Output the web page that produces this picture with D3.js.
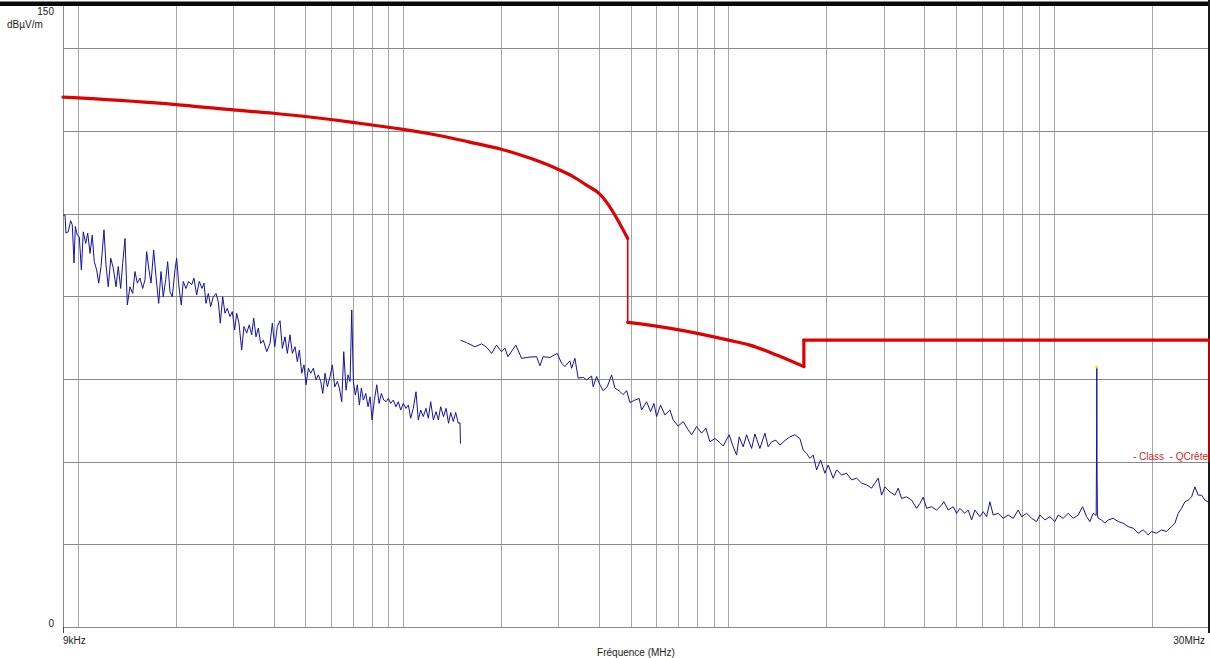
<!DOCTYPE html>
<html lang="fr">
<head>
<meta charset="utf-8">
<title>Champ rayonné 9kHz - 30MHz</title>
<style>
html,body{margin:0;padding:0;background:#fff;overflow:hidden;}
svg{display:block;font-family:"Liberation Sans",Arial,sans-serif;}
.grid-v{stroke:#a6a6a6;stroke-width:1;}
.grid-h{stroke:#8a8a8a;stroke-width:1;}
.axis{stroke:#8a8a8a;stroke-width:1;}
.lbl{fill:#222;font-size:10px;}
.scan{fill:none;stroke:#1212a8;stroke-width:1;stroke-linejoin:round;}
.limit{fill:none;stroke:#e10000;stroke-width:3.2;stroke-linejoin:round;stroke-linecap:round;}
.limit-thin{fill:none;stroke:#d80000;stroke-width:1.6;}
</style>
</head>
<body>
<svg id="chart" width="1210" height="658"></svg>

<script src="https://cdn.jsdelivr.net/npm/d3@7"></script>
<script>
/* ---------- 1. données (fréquence en kHz, niveau en dBµV/m) ---------- */
const freqDomain  = [9, 30000];
const levelDomain = [0, 150];
const gridLevels  = [20, 40, 60, 80, 100, 120, 140];
const yLabels     = [0, 150];
const xLabels     = [[9, '9kHz'], [30000, '30MHz']];
const yUnit       = 'dBµV/m';
const xTitle      = 'Fréquence (MHz)';
const legendText  = '- Class  - QCrête';

// limite QCrête
const limit = [
  [9,128.2],[10,128.0],[20,126.4],[30,125.1],[40,124.3],[50,123.5],[70,122.1],
  [90,120.9],[100,120.4],[135,118.6],[160,117.3],[200,115.6],[250,113.2],
  [300,110.7],[332,109.0],[366,106.9],[400,104.9],[490,94.0],[490,73.7],
  [600,72.8],[726,71.7],[1000,69.4],[1163,68.2],[1406,65.8],[1705,63.0],
  [1705,69.4],[30000,69.4],[30000,40]
];

// balayage 9 kHz - 150 kHz
const scanLow = [
  [9.0,99.7],[9.13,99.7],[9.19,95.3],[9.34,95.6],[9.50,98.3],[9.61,97.3],[9.73,88.1],
  [9.82,96.9],[9.96,94.8],[10.10,94.4],[10.25,86.4],[10.39,95.6],[10.57,92.8],
  [10.72,95.3],[10.90,90.4],[11.07,94.8],[11.23,88.4],[11.42,86.4],[11.59,83.2],
  [11.78,87.2],[12.03,96.1],[12.20,87.6],[12.40,82.3],[12.62,89.2],[12.85,86.8],
  [13.10,82.3],[13.31,87.2],[13.54,81.9],[13.73,88.0],[13.96,94.0],[14.19,77.9],
  [14.46,82.3],[14.74,80.7],[14.98,86.0],[15.23,83.2],[15.52,84.4],[15.82,81.9],
  [16.08,84.0],[16.27,90.8],[16.54,86.4],[16.78,83.2],[17.10,91.2],[17.38,84.8],
  [17.72,78.3],[18.01,86.0],[18.30,79.9],[18.62,84.0],[18.88,88.4],[19.19,81.1],
  [19.51,79.9],[19.88,86.4],[20.12,89.2],[20.45,82.3],[20.79,77.9],[21.08,83.6],
  [21.49,81.9],[21.90,83.6],[22.38,82.8],[22.74,84.4],[23.18,80.3],[23.61,83.6],
  [24.07,81.9],[24.41,83.2],[24.76,78.3],[25.17,80.7],[25.60,77.5],[26.08,79.9],
  [26.58,80.7],[27.02,78.7],[27.40,73.5],[27.87,79.9],[28.33,75.9],[28.79,77.1],
  [29.35,75.1],[29.83,76.3],[30.34,71.9],[30.77,75.9],[31.28,73.5],[31.88,67.0],
  [32.40,72.7],[33.03,71.1],[33.64,73.1],[34.22,70.7],[34.71,74.7],[35.28,70.2],
  [35.86,72.3],[36.47,68.6],[37.15,69.4],[38.06,66.6],[38.96,68.6],[39.60,73.5],
  [40.28,67.8],[41.03,72.7],[41.82,74.1],[42.51,67.4],[43.33,70.2],[44.04,66.2],
  [44.89,70.7],[45.63,66.2],[46.51,67.8],[47.27,64.2],[47.95,67.0],[48.77,61.4],
  [49.57,63.4],[50.28,58.6],[51.10,62.6],[51.98,61.4],[52.95,62.6],[53.97,59.8],
  [54.85,61.0],[55.79,59.4],[56.59,56.5],[57.52,61.4],[58.46,58.1],[59.59,60.6],
  [60.57,63.4],[61.61,58.1],[62.75,59.4],[63.65,57.8],[64.74,54.5],[65.66,66.6],
  [66.74,57.3],[67.69,61.0],[68.66,59.4],[69.49,76.7],[70.28,59.4],[71.28,56.1],
  [72.30,58.6],[73.33,53.7],[74.37,57.8],[75.43,54.9],[76.73,56.5],[77.99,53.3],
  [79.10,55.7],[80.23,50.1],[81.54,54.9],[82.94,58.6],[84.30,54.1],[85.69,56.5],
  [87.16,54.9],[88.59,54.5],[90.0,55.3],[91.54,54.1],[93.24,54.9],[95.04,53.3],
  [96.60,54.5],[98.26,52.5],[100.1,54.1],[102.0,52.9],[103.7,53.7],[105.5,50.5],
  [107.4,52.9],[109.5,56.9],[111.3,50.1],[113.2,52.5],[115.3,50.9],[117.5,52.9],
  [119.5,50.5],[121.5,54.5],[123.8,50.1],[126.2,52.1],[128.3,50.1],[130.4,53.3],
  [133.0,50.9],[135.5,52.9],[137.8,49.3],[140.0,51.9],[142.6,49.7],[145.0,51.9],
  [147.7,49.3],[149.5,49.4],[150.0,44.4]
];

// balayage 150 kHz - 30 MHz
const scanHigh = [
  [150,69.4],[156.6,68.8],[166.1,67.8],[174.2,68.5],[180.5,67.7],[187.0,66.2],
  [193.7,68.2],[200.7,66.6],[205.4,67.5],[209.8,65.4],[222.0,68.2],[231.2,65.0],
  [245.2,65.3],[257.1,65.4],[263.2,63.2],[269.4,65.4],[282.5,65.2],[297.5,66.2],
  [306.9,63.8],[314.1,63.0],[325.4,64.4],[329.4,62.6],[337.2,65.0],[345.1,60.2],
  [357.6,60.4],[366.3,59.8],[379.5,60.7],[383.8,58.1],[393.1,60.6],[402.4,58.6],
  [411.9,57.2],[423.8,58.1],[437.2,61.0],[447.5,57.8],[463.6,57.0],[474.6,56.2],
  [486.2,57.2],[497.6,54.3],[515.6,54.9],[531.5,55.3],[540.6,52.5],[560.1,54.5],
  [576.2,52.1],[589.8,54.1],[601.2,50.9],[618.4,53.7],[637.5,51.3],[660.5,52.5],
  [676.1,50.1],[700.5,48.6],[725.7,49.7],[751.9,47.7],[770.2,46.5],[797.9,48.5],
  [826.7,46.9],[852.2,48.1],[876.7,44.8],[908.3,45.6],[941.0,44.6],[963.2,43.8],
  [1005,46.5],[1033.8,43.6],[1059,41.6],[1078.7,46.0],[1109.7,43.6],[1136.7,46.5],
  [1177.6,43.2],[1205.5,46.7],[1248.9,43.2],[1293.9,46.9],[1324.5,43.6],[1356.7,44.8],
  [1398.7,45.2],[1438.8,44.0],[1490.7,45.1],[1544.4,46.0],[1600.0,46.5],[1657.7,45.6],
  [1696.9,42.8],[1738.2,42.0],[1779.3,40.8],[1821.3,41.6],[1865.6,38.0],[1919.2,40.4],
  [1978.5,37.2],[2025.3,39.2],[2098.2,36.0],[2149.4,38.0],[2226.8,36.8],[2307.0,37.2],
  [2390.1,35.6],[2476.2,36.0],[2565.4,34.8],[2657.8,34.4],[2753.6,33.6],[2818.6,34.8],
  [2885.3,36.0],[2955.5,31.9],[3025.5,33.9],[3134.4,32.7],[3247.4,31.9],[3324.1,33.6],
  [3405.1,31.1],[3527.7,31.5],[3654.8,30.7],[3786.6,28.7],[3876.0,29.9],[3967.7,31.4],
  [4064.4,28.7],[4210.8,29.1],[4362.5,28.3],[4519.7,29.5],[4593.9,30.3],[4735.8,28.3],
  [4906.4,29.1],[5026.0,27.5],[5144.8,28.7],[5330.1,27.5],[5456.0,28.3],[5589.0,25.9],
  [5721.1,28.3],[5927.2,26.7],[6067.3,27.9],[6215.1,26.7],[6361.9,30.3],[6512.3,27.1],
  [6746.9,27.5],[6989.9,26.3],[7241.7,27.1],[7502.6,26.3],[7772.9,28.3],[7962.2,26.7],
  [8249.0,27.5],[8546.2,26.3],[8854.0,25.5],[9063.3,27.1],[9389.8,25.9],[9728.1,26.7],
  [10078,25.5],[10316,27.1],[10688,26.3],[11073,27.5],[11472,26.3],[11885,27.1],
  [12261,29.1],[12613,26.7],[12911,25.5],[13216,27.5],[13500,27.0],[13540,45.0],
  [13560,62.9],[13580,40.0],[13620,27.0],[13693,26.3],[14027,25.9],[14358,25.1],
  [14697,25.9],[15227,26.3],[15775,25.5],[16343,25.1],[16931,24.3],[17541,23.9],
  [18173,22.7],[18829,23.5],[19506,22.3],[19982,23.1],[20702,22.7],[21449,23.5],
  [22220,23.1],[23021,24.3],[23565,25.1],[24123,27.5],[24710,28.7],[25294,30.3],
  [25892,30.7],[26523,31.5],[27150,33.9],[27792,31.9],[28468,31.9],[29141,30.7],
  [30000,30.1]
];

// marqueur sur le pic 13,56 MHz
const peakMarker = [[13560, 62.9]];

/* ---------- 2. échelles ---------- */
const W = 1210, H = 658;
const plot = {left:63, right:1209, top:7, bottom:627};

const x = d3.scaleLog().domain(freqDomain).range([plot.left, plot.right]);
const y = d3.scaleLinear().domain(levelDomain).range([plot.bottom, plot.top]);

const svg = d3.select('#chart');

/* ---------- 3. cadre et grille ---------- */
svg.append('rect').attr('x',0).attr('y',1.5).attr('width',W).attr('height',4.5).attr('fill','#0a0a0a');

svg.append('g').selectAll('line')
  .data(x.ticks().filter(d => d > freqDomain[0] && d < freqDomain[1]))
  .join('line').attr('class','grid-v')
  .attr('x1', d => Math.round(x(d)) + .5).attr('x2', d => Math.round(x(d)) + .5)
  .attr('y1', 6).attr('y2', plot.bottom);

svg.append('g').selectAll('line')
  .data(gridLevels)
  .join('line').attr('class','grid-h')
  .attr('x1', plot.left).attr('x2', plot.right)
  .attr('y1', d => Math.round(y(d)) + .5).attr('y2', d => Math.round(y(d)) + .5);

// axes
svg.append('line').attr('class','axis')
  .attr('x1', plot.left + .5).attr('x2', plot.left + .5).attr('y1', 6).attr('y2', plot.bottom);
svg.append('line').attr('class','axis')
  .attr('x1', plot.left).attr('x2', plot.right).attr('y1', plot.bottom + .5).attr('y2', plot.bottom + .5);
svg.append('line').attr('stroke','#444')
  .attr('x1', plot.left + .5).attr('x2', plot.left + .5).attr('y1', plot.bottom).attr('y2', plot.bottom + 6);
svg.append('line').attr('stroke','#1a1a1a').attr('stroke-width',2)
  .attr('x1', plot.right).attr('x2', plot.right).attr('y1', 0).attr('y2', plot.bottom + 6);

/* ---------- 4. courbes ---------- */
const line   = d3.line().x(d => x(d[0])).y(d => y(d[1]));
const smooth = d3.line().x(d => x(d[0])).y(d => y(d[1])).curve(d3.curveMonotoneX);

svg.append('path').datum(scanLow).attr('class','scan').attr('d', line);
svg.append('path').datum(scanHigh).attr('class','scan').attr('d', line);

// la limite : tronçons lisses, sauts verticaux aux changements de bande
const pieces = [[limit[0]]];
const jumps = [];
for (let i = 1; i < limit.length; i++) {
  if (limit[i][0] === limit[i-1][0]) {
    jumps.push([limit[i-1], limit[i]]);
    pieces.push([limit[i]]);
  } else {
    pieces[pieces.length-1].push(limit[i]);
  }
}
svg.append('g').selectAll('path')
  .data(jumps)
  .join('path')
  .attr('class', d => d[1][1] > d[0][1] ? 'limit' : 'limit-thin')
  .attr('d', line);
svg.append('g').selectAll('path')
  .data(pieces.filter(p => p.length > 1))
  .join('path').attr('class','limit')
  .attr('d', smooth);

svg.append('g').selectAll('circle')
  .data(peakMarker)
  .join('circle')
  .attr('cx', d => x(d[0])).attr('cy', d => y(d[1])).attr('r', 1.6)
  .attr('fill', '#f4e400');

/* ---------- 5. textes ---------- */
svg.append('g').selectAll('text')
  .data(yLabels)
  .join('text').attr('class','lbl')
  .attr('x', 54).attr('y', d => y(d) + (d === 0 ? 0 : 8))
  .attr('text-anchor','end')
  .text(d => d);

svg.append('text').attr('class','lbl')
  .attr('x', 7).attr('y', 28).text(yUnit);

svg.append('g').selectAll('text')
  .data(xLabels)
  .join('text').attr('class','lbl')
  .attr('x', (d, i) => i === 0 ? x(d[0]) : x(d[0]) - 4)
  .attr('y', 644)
  .attr('text-anchor', (d, i) => i === 0 ? 'start' : 'end')
  .text(d => d[1]);

svg.append('text').attr('class','lbl')
  .attr('x', (plot.left + plot.right) / 2).attr('y', 656)
  .attr('text-anchor','middle').text(xTitle);

svg.append('text')
  .attr('x', plot.right - 1).attr('y', 460)
  .attr('text-anchor','end')
  .attr('font-size', 10).attr('fill', '#d22424')
  .style('white-space','pre')
  .text(legendText);
</script>
</body>
</html>
